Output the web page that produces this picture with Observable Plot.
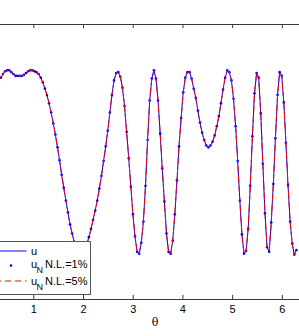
<!DOCTYPE html>
<html><head><meta charset="utf-8">
<script src="https://cdn.jsdelivr.net/npm/d3@7"></script>
<script src="https://cdn.jsdelivr.net/npm/@observablehq/plot@0.6"></script>
<style>html,body{margin:0;padding:0;background:#fff;overflow:hidden}</style>
</head><body><div id="chart"></div>
<script>
const theta = [0,0.042,0.084,0.127,0.169,0.211,0.253,0.295,0.337,0.380,
0.422,0.464,0.506,0.548,0.590,0.633,0.675,0.717,0.759,0.801,
0.843,0.886,0.928,0.970,1.012,1.054,1.096,1.139,1.181,1.223,
1.265,1.307,1.349,1.392,1.434,1.476,1.518,1.560,1.602,1.645,
1.687,1.729,1.771,1.813,1.855,1.898,1.940,1.982,2.024,2.066,
2.108,2.151,2.193,2.235,2.277,2.319,2.361,2.404,2.446,2.488,
2.530,2.572,2.614,2.657,2.699,2.741,2.783,2.825,2.867,2.910,
2.952,2.994,3.036,3.078,3.120,3.163,3.205,3.247,3.289,3.331,
3.374,3.416,3.458,3.500,3.542,3.584,3.627,3.669,3.711,3.753,
3.795,3.837,3.880,3.922,3.964,4.006,4.048,4.090,4.133,4.175,
4.217,4.259,4.301,4.343,4.386,4.428,4.470,4.512,4.554,4.596,
4.639,4.681,4.723,4.765,4.807,4.849,4.892,4.934,4.976,5.018,
5.060,5.102,5.145,5.187,5.229,5.271,5.313,5.355,5.398,5.440,
5.482,5.524,5.566,5.608,5.651,5.693,5.735,5.777,5.819,5.861,
5.904,5.946,5.988,6.030,6.072,6.114,6.157,6.199,6.241,6.283];

const u = [0.45,0.54,0.62,0.69,0.75,0.80,0.85,0.89,0.92,0.96,
0.99,1.00,1.00,0.98,0.96,0.94,0.94,0.94,0.94,0.95,
0.97,0.99,1.00,1.00,0.99,0.98,0.96,0.92,0.87,0.80,
0.73,0.64,0.54,0.42,0.30,0.16,0.02,-0.14,-0.28,-0.42,
-0.55,-0.68,-0.78,-0.87,-0.93,-0.98,-1.00,-0.99,-0.96,-0.90,
-0.82,-0.73,-0.63,-0.53,-0.42,-0.29,-0.15,0.01,0.17,0.34,
0.54,0.73,0.89,0.97,0.98,0.93,0.81,0.61,0.33,0.04,
-0.27,-0.57,-0.81,-0.98,-1.00,-0.88,-0.65,-0.26,0.24,0.67,
0.91,1.00,0.91,0.67,0.31,-0.07,-0.43,-0.78,-0.98,-1.00,
-0.86,-0.57,-0.20,0.17,0.48,0.76,0.92,0.98,0.98,0.91,
0.80,0.70,0.56,0.43,0.32,0.24,0.18,0.16,0.18,0.22,
0.29,0.39,0.50,0.64,0.79,0.92,1.00,0.98,0.89,0.69,
0.39,0.01,-0.42,-0.79,-1.00,-0.97,-0.73,-0.26,0.28,0.75,
0.97,0.92,0.53,-0.02,-0.56,-0.93,-0.98,-0.66,-0.24,0.26,
0.73,0.98,0.94,0.65,0.21,-0.25,-0.65,-0.89,-1.01,-0.96];

// noisy reconstructions coincide with u at this resolution
const uN1 = u;
const uN5 = u;

const xTicks = [1, 2, 3, 4, 5, 6];
const legendNames = ["u", "N.L.=1%", "N.L.=5%"];
const xLabel = "θ";

const data = theta.map((t, i) => ({theta: t, u: u[i], n1: uN1[i], n5: uN5[i]}));
const axisColor = "#3a3a3a";

const chart = Plot.plot({
  width: 299, height: 336,
  marginTop: 24, marginBottom: 37, marginLeft: 0, marginRight: 0,
  style: {fontFamily: "'Liberation Sans', Arial, sans-serif", fontSize: "11px", background: "#fff", color: "#000"},
  x: {domain: [0, 6.283], range: [-16.4, 295.9]},
  y: {domain: [-1.5, 1.5], axis: null},
  marks: [
    Plot.ruleY([1.5, -1.5], {stroke: axisColor}),
    Plot.ruleX(xTicks, {x: d => d, y1: -1.5, y2: -1.455, stroke: axisColor}),
    Plot.ruleX(xTicks, {x: d => d, y1: 1.5, y2: 1.455, stroke: axisColor}),
    Plot.axisX(xTicks, {anchor: "bottom", tickSize: 0, tickPadding: 6, label: null, fill: "#000"}),
    Plot.line(data, {x: "theta", y: "u", stroke: "#0000ff", strokeWidth: 1}),
    Plot.dot(data, {x: "theta", y: "n1", r: 1.3, fill: "#0000ff", stroke: "none"}),
    Plot.line(data, {x: "theta", y: "n5", stroke: "#ff0000", strokeWidth: 1, strokeDasharray: "6,4"})
  ]
});
document.getElementById("chart").appendChild(chart);

// legend box and x label
const svg = d3.select(chart);
const g = svg.append("g")
  .attr("font-family", "'Liberation Sans', Arial, sans-serif")
  .attr("font-size", 11)
  .attr("text-anchor", "start")
  .attr("fill", "#000");
g.append("rect").attr("x", -5).attr("y", 241.5).attr("width", 95.5).attr("height", 53)
  .style("fill", "#fff").style("stroke", "#555").style("stroke-width", "1px");
g.append("path").attr("d", "M-5,251H26.5")
  .style("fill", "none").style("stroke", "#0000ff").style("stroke-width", "1px");
g.append("circle").attr("cx", 11).attr("cy", 265.5).attr("r", 1.3).style("fill", "#0000ff").style("stroke", "none");
g.append("path").attr("d", "M-5,281H26.5")
  .style("fill", "none").style("stroke", "#ff0000").style("stroke-width", "1px").style("stroke-dasharray", "6,4");
g.append("text").attr("x", 31).attr("y", 254.5).text(legendNames[0]);
[[268, legendNames[1]], [285, legendNames[2]]].forEach(([y, name]) => {
  const t = g.append("text").attr("x", 31).attr("y", y);
  t.append("tspan").text("u");
  t.append("tspan").attr("x", 36.5).attr("dy", 4.5).attr("font-size", 9).text("N");
  t.append("tspan").attr("x", 45).attr("dy", -4.5).text(name);
});
svg.append("text").attr("x", 155).attr("y", 326).attr("text-anchor", "middle")
  .attr("font-family", "'DejaVu Serif', serif").attr("font-size", 11).text(xLabel);
</script>
</body></html>
